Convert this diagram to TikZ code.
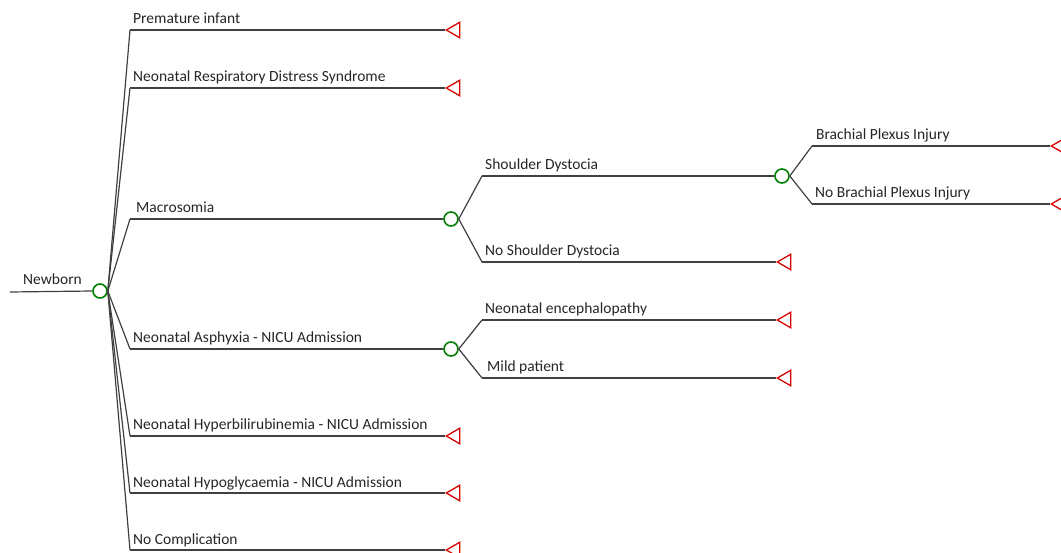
\documentclass[tikz,border=0pt]{standalone}
\usepackage{fontspec}
\setmainfont{Carlito}
\usetikzlibrary{shapes.geometric}
\tikzset{
  chance/.style={shape=circle,draw=green!50!black,line width=1.6pt,minimum size=14pt,inner sep=0pt},
  leaf/.style={shape=regular polygon,regular polygon sides=3,regular polygon rotate=90,draw=red!85!black,line width=1.3pt,minimum size=18pt,inner sep=0pt,anchor=corner 1},
  branch/.style={draw=black!75,line width=1.2pt},
  lbl/.style={anchor=base west,inner sep=0pt,font=\fontsize{15.5}{18}\selectfont,text=black!85}
}
\begin{document}
\begin{tikzpicture}[x=1pt,y=-1pt]
        \useasboundingbox (0,0) rectangle (1061,553);
        \coordinate (start) at (10,292);
        \node[chance] (newborn) at (100,291) {};
        \node[lbl] (newbornlbl) at (23,285) {Newborn};

        % first level
        \coordinate (c1) at (130,30);
        \coordinate (c2) at (130,88);
        \coordinate (c3) at (130,219);
        \coordinate (c4) at (130,349);
        \coordinate (c5) at (130,436);
        \coordinate (c6) at (130,493);
        \coordinate (c7) at (130,550);
        \node[leaf] (t1) at (445,30) {};
        \node[leaf] (t2) at (445,88) {};
        \node[chance] (macro) at (451,219) {};
        \node[chance] (asphyxia) at (451,349) {};
        \node[leaf] (t5) at (445,436) {};
        \node[leaf] (t6) at (445,493) {};
        \node[leaf] (t7) at (445,550) {};
        \node[lbl] (l1) at (133,24) {Premature infant};
        \node[lbl] (l2) at (133,82) {Neonatal Respiratory Distress Syndrome};
        \node[lbl] (l3) at (136,213) {Macrosomia};
        \node[lbl] (l4) at (133,343) {Neonatal Asphyxia - NICU Admission};
        \node[lbl] (l5) at (133,430) {Neonatal Hyperbilirubinemia - NICU Admission};
        \node[lbl] (l6) at (133,487) {Neonatal Hypoglycaemia - NICU Admission};
        \node[lbl] (l7) at (133,544) {No Complication};

        % macrosomia
        \coordinate (m1) at (482,176);
        \coordinate (m2) at (482,262);
        \node[chance] (dystocia) at (782,176) {};
        \node[leaf] (tm2) at (776,262) {};
        \node[lbl] (lm1) at (485,170) {Shoulder Dystocia};
        \node[lbl] (lm2) at (485,256) {No Shoulder Dystocia};

        % shoulder dystocia
        \coordinate (d1) at (812,146);
        \coordinate (d2) at (812,204);
        \node[leaf] (td1) at (1050,146) {};
        \node[leaf] (td2) at (1050,204) {};
        \node[lbl] (ld1) at (816,140) {Brachial Plexus Injury};
        \node[lbl] (ld2) at (815,198) {No Brachial Plexus Injury};

        % asphyxia
        \coordinate (a1) at (482,320);
        \coordinate (a2) at (482,378);
        \node[leaf] (ta1) at (776,320) {};
        \node[leaf] (ta2) at (776,378) {};
        \node[lbl] (la1) at (485,314) {Neonatal encephalopathy};
        \node[lbl] (la2) at (487,372) {Mild patient};

        \path[branch]
        (start) edge (newborn.west)
        (newborn.east) edge (c1) (c1) edge (t1.corner 1)
        (newborn.east) edge (c2) (c2) edge (t2.corner 1)
        (newborn.east) edge (c3) (c3) edge (macro.west)
        (newborn.east) edge (c4) (c4) edge (asphyxia.west)
        (newborn.east) edge (c5) (c5) edge (t5.corner 1)
        (newborn.east) edge (c6) (c6) edge (t6.corner 1)
        (newborn.east) edge (c7) (c7) edge (t7.corner 1)
        (macro.east) edge (m1) (m1) edge (dystocia.west)
        (macro.east) edge (m2) (m2) edge (tm2.corner 1)
        (dystocia.east) edge (d1) (d1) edge (td1.corner 1)
        (dystocia.east) edge (d2) (d2) edge (td2.corner 1)
        (asphyxia.east) edge (a1) (a1) edge (ta1.corner 1)
        (asphyxia.east) edge (a2) (a2) edge (ta2.corner 1)
        ;
\end{tikzpicture}
\end{document}
